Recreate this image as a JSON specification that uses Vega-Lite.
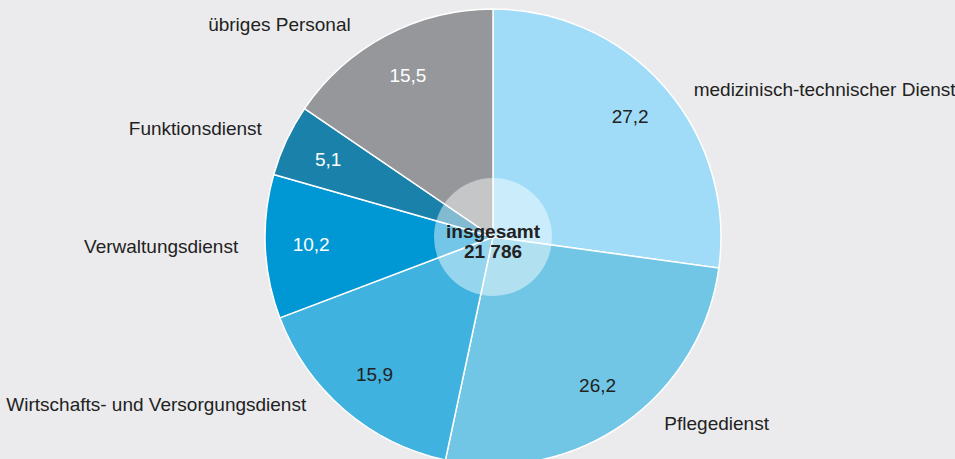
{
  "$schema": "https://vega.github.io/schema/vega-lite/v6.json",
  "autosize": {"type": "none"},
  "width": 924,
  "height": 444,
  "padding": {"left": 31, "top": 15, "right": 0, "bottom": 0},
  "background": "#ebebed",
  "config": {
    "view": {"stroke": null},
    "font": "Liberation Sans",
    "locale": {"number": {"decimal": ",", "thousands": " ", "grouping": [3], "currency": ["", " €"]}}
  },
  "datasets": {
    "pie": [
      {"i": 1, "cat": "medizinisch-technischer Dienst", "share": 27.2},
      {"i": 2, "cat": "Pflegedienst", "share": 26.2},
      {"i": 3, "cat": "Wirtschafts- und Versorgungsdienst", "share": 15.9},
      {"i": 4, "cat": "Verwaltungsdienst", "share": 10.2},
      {"i": 5, "cat": "Funktionsdienst", "share": 5.1},
      {"i": 6, "cat": "übriges Personal", "share": 15.5}
    ],
    "total": [{"label": "insgesamt\n21 786", "v": 1}]
  },
  "layer": [
    {
      "data": {"name": "pie"},
      "mark": {"type": "arc", "outerRadius": 228, "stroke": "white", "strokeWidth": 1.5},
      "encoding": {
        "theta": {"field": "share", "type": "quantitative", "stack": true},
        "order": {"field": "i", "type": "quantitative"},
        "color": {
          "field": "cat", "type": "nominal", "legend": null,
          "scale": {
            "domain": ["medizinisch-technischer Dienst", "Pflegedienst", "Wirtschafts- und Versorgungsdienst", "Verwaltungsdienst", "Funktionsdienst", "übriges Personal"],
            "range": ["#a0dcf7", "#71c6e6", "#3fb2df", "#0098d4", "#1a81ab", "#96979a"]
          }
        }
      }
    },
    {
      "data": {"name": "pie"},
      "mark": {"type": "text", "radius": 182, "fontSize": 19, "baseline": "middle", "align": "center"},
      "encoding": {
        "theta": {"field": "share", "type": "quantitative", "stack": true},
        "order": {"field": "i", "type": "quantitative"},
        "text": {"field": "share", "type": "quantitative", "format": ".1f"},
        "color": {
          "condition": {"test": "indexof(['Verwaltungsdienst','Funktionsdienst','übriges Personal'], datum.cat) >= 0", "value": "white"},
          "value": "#222222"
        }
      }
    },
    {
      "data": {"name": "pie"},
      "mark": {"type": "text", "radius": 253, "fontSize": 19, "baseline": "middle", "align": "left", "dx": 10, "dy": 19, "color": "#222222"},
      "encoding": {
        "theta": {"field": "share", "type": "quantitative", "stack": true},
        "order": {"field": "i", "type": "quantitative"},
        "text": {"field": "cat", "type": "nominal"},
        "opacity": {"condition": {"test": "datum.cat == 'medizinisch-technischer Dienst'", "value": 1}, "value": 0}
      }
    },
    {
      "data": {"name": "pie"},
      "mark": {"type": "text", "radius": 253, "fontSize": 19, "baseline": "middle", "align": "left", "dx": 26, "dy": -20, "color": "#222222"},
      "encoding": {
        "theta": {"field": "share", "type": "quantitative", "stack": true},
        "order": {"field": "i", "type": "quantitative"},
        "text": {"field": "cat", "type": "nominal"},
        "opacity": {"condition": {"test": "datum.cat == 'Pflegedienst'", "value": 1}, "value": 0}
      }
    },
    {
      "data": {"name": "pie"},
      "mark": {"type": "text", "radius": 253, "fontSize": 19, "baseline": "middle", "align": "right", "dx": -22, "dy": -24, "color": "#222222"},
      "encoding": {
        "theta": {"field": "share", "type": "quantitative", "stack": true},
        "order": {"field": "i", "type": "quantitative"},
        "text": {"field": "cat", "type": "nominal"},
        "opacity": {"condition": {"test": "datum.cat == 'Wirtschafts- und Versorgungsdienst'", "value": 1}, "value": 0}
      }
    },
    {
      "data": {"name": "pie"},
      "mark": {"type": "text", "radius": 253, "fontSize": 19, "baseline": "middle", "align": "right", "dx": -2, "dy": -1, "color": "#222222"},
      "encoding": {
        "theta": {"field": "share", "type": "quantitative", "stack": true},
        "order": {"field": "i", "type": "quantitative"},
        "text": {"field": "cat", "type": "nominal"},
        "opacity": {"condition": {"test": "datum.cat == 'Verwaltungsdienst' || datum.cat == 'Funktionsdienst'", "value": 1}, "value": 0}
      }
    },
    {
      "data": {"name": "pie"},
      "mark": {"type": "text", "radius": 253, "fontSize": 19, "baseline": "middle", "align": "right", "dx": -24, "dy": 12, "color": "#222222"},
      "encoding": {
        "theta": {"field": "share", "type": "quantitative", "stack": true},
        "order": {"field": "i", "type": "quantitative"},
        "text": {"field": "cat", "type": "nominal"},
        "opacity": {"condition": {"test": "datum.cat == 'übriges Personal'", "value": 1}, "value": 0}
      }
    },
    {
      "data": {"name": "total"},
      "mark": {"type": "arc", "outerRadius": 59, "fill": "white", "opacity": 0.45},
      "encoding": {
        "theta": {"field": "v", "type": "quantitative", "scale": {"domain": [0, 1]}}
      }
    },
    {
      "data": {"name": "total"},
      "mark": {"type": "text", "fontSize": 19, "fontWeight": "bold", "lineBreak": "\n", "baseline": "middle", "align": "center", "lineHeight": 20, "dy": -5, "color": "#222222"},
      "encoding": {
        "text": {"field": "label", "type": "nominal"}
      }
    }
  ],
  "resolve": {"scale": {"theta": "independent", "color": "independent", "opacity": "independent"}}
}
